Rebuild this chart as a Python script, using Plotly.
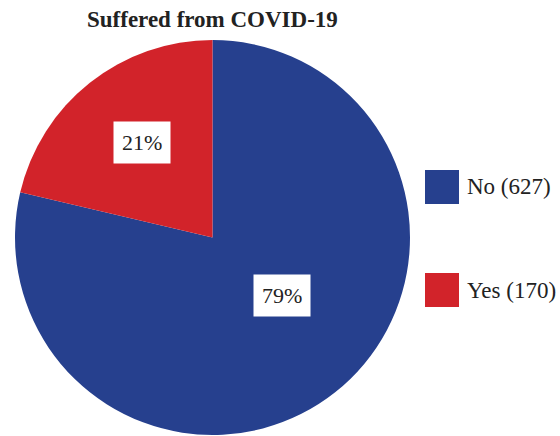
import math
import plotly.graph_objects as go

categories = ["No", "Yes"]
counts = [627, 170]
colors = ["#26408E", "#D2232A"]
title_text = "Suffered from COVID-19"

W, H = 560, 436
FONT = "Liberation Serif, DejaVu Serif, serif"

# pie geometry (pixels)
cx, cy, R = 212.5, 237.5, 197.5
label_frac = [0.46, 0.60]
label_turn = [-12, 2]  # degrees offset from slice mid-angle

total = sum(counts)
pcts = [round(100 * c / total) for c in counts]

fig = go.Figure()
fig.add_trace(go.Pie(
    labels=categories, values=counts, sort=False, direction="clockwise",
    rotation=0, marker=dict(colors=colors, line=dict(width=0)),
    textinfo="none", hoverinfo="label+value+percent", showlegend=False,
    domain=dict(x=[(cx - R) / W, (cx + R) / W], y=[1 - (cy + R) / H, 1 - (cy - R) / H]),
))

annotations = []
cum = 0
for i, (c, p) in enumerate(zip(counts, pcts)):
    mid = (cum + c / 2) / total * 2 * math.pi + math.radians(label_turn[i])
    cum += c
    dx = math.sin(mid) * R * label_frac[i]
    dy = -math.cos(mid) * R * label_frac[i]
    annotations.append(dict(
        x=(cx + dx) / W, y=1 - (cy + dy) / H, xref="paper", yref="paper",
        xanchor="center", yanchor="middle",
        text=f"{p}%", showarrow=False, bgcolor="white", borderpad=8,
        font=dict(family=FONT, size=22, color="#222"),
    ))

# legend built from data
shapes = []
leg_y = [187, 290]
for i, (cat, c, col) in enumerate(zip(categories, counts, colors)):
    yc = leg_y[i]
    shapes.append(dict(type="rect", xref="paper", yref="paper",
                       x0=425 / W, x1=459 / W, y0=1 - (yc + 17) / H, y1=1 - (yc - 17) / H,
                       fillcolor=col, line=dict(width=0)))
    annotations.append(dict(x=465 / W, y=1 - yc / H, xref="paper", yref="paper",
                            text=f"{cat} ({c})", showarrow=False,
                            xanchor="left", yanchor="middle",
                            font=dict(family=FONT, size=23, color="#222")))

annotations.append(dict(x=212 / W, y=1 - 20 / H, xref="paper", yref="paper",
                        xanchor="center", yanchor="middle",
                        text=f"<b>{title_text}</b>", showarrow=False,
                        font=dict(family=FONT, size=23, color="#222")))

fig.update_layout(
    width=W, height=H, margin=dict(l=0, r=0, t=0, b=0),
    paper_bgcolor="white", plot_bgcolor="white",
    annotations=annotations, shapes=shapes,
)
fig.write_html("out.html")
